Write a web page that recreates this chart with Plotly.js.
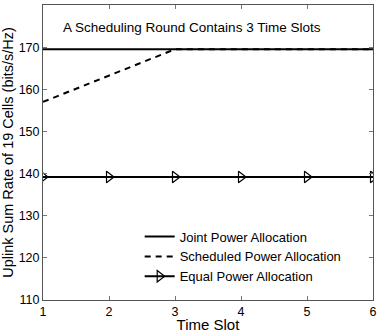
<!DOCTYPE html>
<html><head><meta charset="utf-8">
<script src="https://cdn.plot.ly/plotly-3.0.1.min.js"></script>
<style>body{margin:0;padding:0;background:#fff}#chart{width:382px;height:333px}</style>
</head><body><div id="chart"></div>
<script>
const timeSlots = [1, 2, 3, 4, 5, 6];
const jointPower = [169.5, 169.5, 169.5, 169.5, 169.5, 169.5];
const scheduledPower = [157.0, 163.2, 169.5, 169.5, 169.5, 169.5];
const equalPower = [139.2, 139.2, 139.2, 139.2, 139.2, 139.2];
const seriesNames = ['Joint Power Allocation', 'Scheduled Power Allocation', 'Equal Power Allocation'];
const xTicks = [1, 2, 3, 4, 5, 6];
const yTicks = [110, 120, 130, 140, 150, 160, 170, 180];
const noteText = 'A Scheduling Round Contains 3 Time Slots';

const font = 'Liberation Sans, Arial, Helvetica, sans-serif';
const traces = [
  {x: timeSlots, y: jointPower, name: seriesNames[0], mode: 'lines', line: {color: '#000', width: 2}},
  {x: timeSlots, y: scheduledPower, name: seriesNames[1], mode: 'lines', line: {color: '#000', width: 2, dash: '6px,5px'}},
  {x: timeSlots, y: equalPower, name: seriesNames[2], mode: 'lines+markers', line: {color: '#000', width: 2},
   marker: {symbol: 'triangle-right-open', size: 10, color: '#000', line: {width: 1.2, color: '#000'}}}
];
const axisCommon = {
  showgrid: false, zeroline: false, showline: true, mirror: 'ticks', linecolor: '#555', linewidth: 1,
  ticks: 'inside', ticklen: 4, tickcolor: '#777', tickfont: {family: font, size: 12.5, color: '#000'}
};
const layout = {
  width: 382, height: 333,
  margin: {l: 43, r: 9, t: 5, b: 33},
  paper_bgcolor: '#fff', plot_bgcolor: '#fff',
  showlegend: true,
  legend: {x: 0.293, y: 0.266, xanchor: 'left', yanchor: 'top', bgcolor: 'rgba(0,0,0,0)', borderwidth: 0,
    font: {family: font, size: 13, color: '#000'}, tracegroupgap: 0, itemwidth: 30},
  xaxis: Object.assign({}, axisCommon, {range: [1, 6], tickvals: xTicks,
    title: {text: 'Time Slot', font: {family: font, size: 15, color: '#000'}, standoff: 0}}),
  yaxis: Object.assign({}, axisCommon, {range: [110, 180], tickvals: yTicks,
    title: {text: 'Uplink Sum Rate of 19 Cells (bits/s/Hz)', font: {family: font, size: 14.5, color: '#000'}, standoff: 4}}),
  annotations: [{x: 1.28, y: 174.6, xref: 'x', yref: 'y', text: noteText, showarrow: false, xanchor: 'left', yanchor: 'middle',
    font: {family: font, size: 13.5, color: '#000'}}]
};
Plotly.newPlot('chart', traces, layout, {displayModeBar: false, staticPlot: true});
</script></body></html>
